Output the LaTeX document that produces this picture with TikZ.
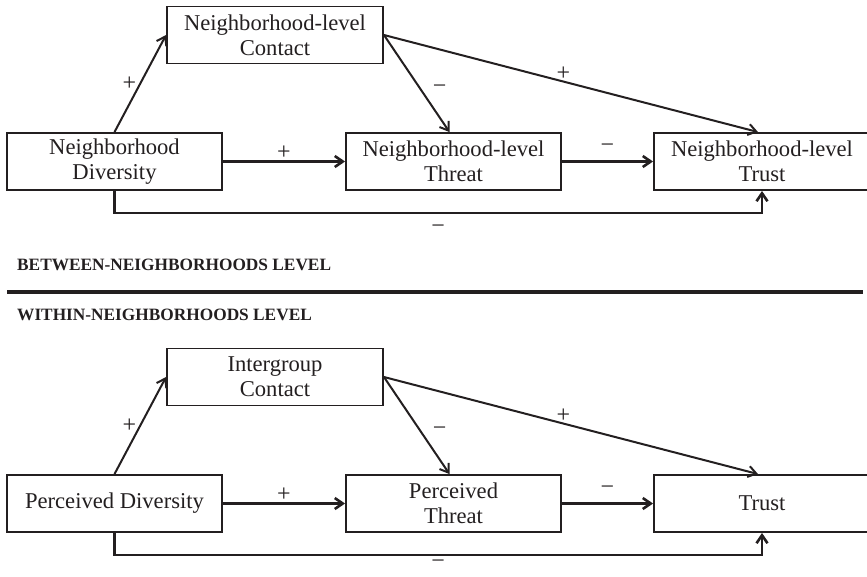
\documentclass[tikz,border=0pt]{standalone}
\usepackage{fontspec}
\setmainfont{Liberation Serif}
\usetikzlibrary{arrows.meta,calc}
\definecolor{ink}{HTML}{231F20}
\begin{document}
\begin{tikzpicture}[x=1pt,y=-1pt,
  box/.style={draw=ink, line width=1.9pt, minimum width=216pt, minimum height=57pt, inner sep=0pt, align=center, text=ink, font=\fontsize{22.6}{25}\selectfont},
  arr/.style={draw=ink, line width=2pt, -{Straight Barb[length=8pt,width=11pt]}},
  harr/.style={arr, line width=2.6pt},
  lbl/.style={text=ink, inner sep=0pt, font=\fontsize{24}{26}\selectfont},
  sec/.style={text=ink, inner sep=0pt, anchor=west, font=\fontsize{17.3}{20}\bfseries\selectfont}]
\clip (0,0) rectangle (867,576);
% ---------- between level ----------
\node[box] (con) at (275,35) {Neighborhood-level\\Contact};
\node[box, minimum width=215pt] (div) at (114.5,161.5) {Neighborhood\\Diversity};
\node[box, minimum width=215pt] (thr) at (453.5,161.5) {Neighborhood-level\\Threat};
\node[box] (tru) at (762,161.5) {Neighborhood-level\\Trust};
\draw[arr] (div.north) -- node[lbl, pos=.5, xshift=-11pt] {+} (con.west);
\draw[arr] (con.east) -- node[lbl, pos=.53, xshift=21pt, yshift=-3pt] {−} ([xshift=-4pt]thr.north);
\draw[arr] (con.east) -- node[lbl, pos=.48, yshift=8pt] {+} ([xshift=-4pt]tru.north);
\draw[harr] (div.east) -- node[lbl, pos=.5, yshift=9pt] {+} (thr.west);
\draw[harr] (thr.east) -- node[lbl, pos=.5, yshift=13pt] {−} (tru.west);
\draw[harr] (div.south) -- ++(0,22) -| (tru.south);
\node[lbl] (m1) at ($(div.south)!.5!(tru.south)+(0,38)$) {−};
% ---------- separator ----------
\node[sec] (bt) at (17,265) {BETWEEN-NEIGHBORHOODS LEVEL};
\coordinate (sl) at (7,292);
\coordinate (sr) at (863,292);
\draw[ink, line width=4pt] (sl) -- (sr);
\node[sec] (wt) at (17,315) {WITHIN-NEIGHBORHOODS LEVEL};
% ---------- within level ----------
\node[box] (con2) at (275,377) {Intergroup\\Contact};
\node[box, minimum width=215pt] (div2) at (114.5,503.5) {Perceived Diversity};
\node[box, minimum width=215pt] (thr2) at (453.5,503.5) {Perceived\\Threat};
\node[box] (tru2) at (762,503.5) {Trust};
\draw[arr] (div2.north) -- node[lbl, pos=.5, xshift=-11pt] {+} (con2.west);
\draw[arr] (con2.east) -- node[lbl, pos=.53, xshift=21pt, yshift=-3pt] {−} ([xshift=-4pt]thr2.north);
\draw[arr] (con2.east) -- node[lbl, pos=.48, yshift=8pt] {+} ([xshift=-4pt]tru2.north);
\draw[harr] (div2.east) -- node[lbl, pos=.5, yshift=9pt] {+} (thr2.west);
\draw[harr] (thr2.east) -- node[lbl, pos=.5, yshift=13pt] {−} (tru2.west);
\draw[harr] (div2.south) -- ++(0,22) -| (tru2.south);
\node[lbl] (m2) at ($(div2.south)!.5!(tru2.south)+(0,31)$) {−};
\end{tikzpicture}
\end{document}
